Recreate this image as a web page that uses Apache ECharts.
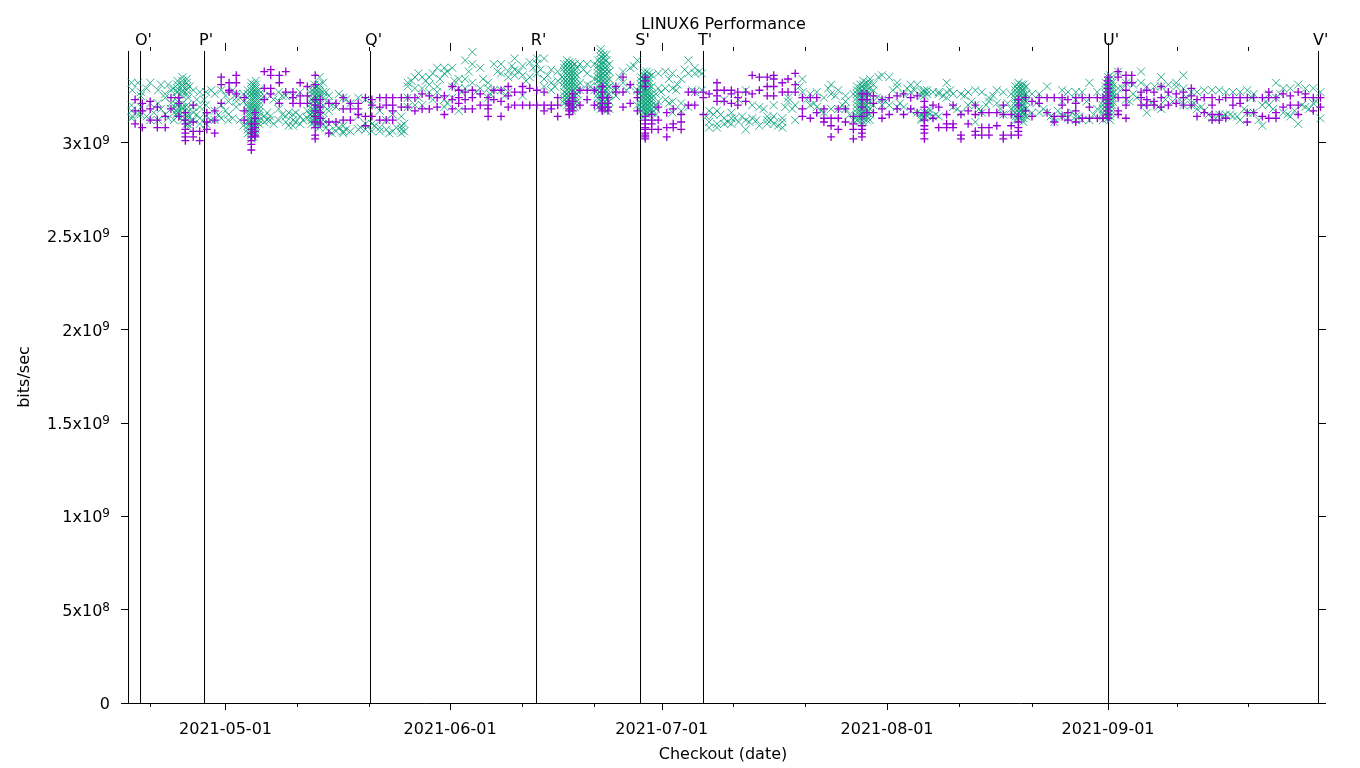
<!DOCTYPE html>
<html><head><meta charset="utf-8">
<style>html,body{margin:0;padding:0;background:#fff}#c{width:1360px;height:768px}</style>
<script src="https://cdn.jsdelivr.net/npm/echarts@6/dist/echarts.min.js"></script>
</head><body><div id="c"></div>
<script>
// x = days relative to the 2021-05-01 tick, y values in units of 1e9 bits/sec
const xMajorTicks = [0, 31.3, 60.8, 92.2, 123];
const xMajorLabels = ['2021-05-01', '2021-06-01', '2021-07-01', '2021-08-01', '2021-09-01'];
const xMinorTicks = [-10.5, 10, 20, 41.3, 51.4, 70.7, 80.8, 102.2, 112.4, 132.6, 142.6];
const yTicks = [0, 5e8, 1e9, 1.5e9, 2e9, 2.5e9, 3e9];
const yTickLabels = ['0', '{m|5x10}{s|8}', '{m|1x10}{s|9}', '{m|1.5x10}{s|9}', '{m|2x10}{s|9}', '{m|2.5x10}{s|9}', '{m|3x10}{s|9}'];
const eventDays = [-13.59, -11.92, -2.99, 20.15, 43.25, 57.8, 66.55, 123, 152.26];
const eventNames = ['', "O'", "P'", "Q'", "R'", "S'", "T'", "U'", "V'"];

const purple = [
[-12.6,[3.23,3.17,3.10]],[-11.6,[3.21,3.17,3.08]],[-10.5,[3.22,3.18,3.12]],[-9.5,[3.19,3.12,3.08]],[-8.4,[3.14,3.08]],[-7.6,[3.24,3.18]],[-6.5,[3.24,3.21,3.14]],
[-5.6,[3.16,3.12,3.10,3.07,3.05,3.03,3.01]],[-4.5,[3.20,3.11,3.06,3.03]],[-3.6,[3.06,3.01]],[-2.6,[3.16,3.11,3.07]],[-1.5,[3.17,3.12,3.05]],[-0.6,[3.35,3.31,3.21]],
[0.5,[3.32,3.28,3.27]],[1.5,[3.36,3.32,3.26]],[2.6,[3.24,3.17,3.12]],[3.6,[3.10,3.07,3.05,3.03,3.01,2.99,2.96]],[4.1,[3.16,3.13,3.10,3.08,3.06,3.04,3.03]],
[5.4,[3.38,3.29,3.23]],[6.3,[3.39,3.36,3.29,3.26]],[7.5,[3.36,3.32,3.21]],[8.4,[3.38,3.27]],[9.4,[3.27,3.24,3.21]],[10.4,[3.32,3.25,3.21]],[11.4,[3.30,3.25,3.21]],
[12.5,[3.36,3.31,3.23,3.20,3.17,3.14,3.11,3.08,3.04,3.02]],[13.2,[3.23,3.19,3.16,3.13,3.10]],[14.4,[3.21,3.11,3.05]],[15.4,[3.21,3.11]],[16.4,[3.24,3.18,3.12]],
[17.4,[3.21,3.18,3.12]],[18.5,[3.21,3.18,3.15]],[19.5,[3.24,3.14,3.09]],[20.4,[3.23,3.20,3.14]],[21.5,[3.24,3.19,3.12]],[22.4,[3.24,3.20,3.12]],[23.3,[3.24,3.20,3.17,3.12]],
[24.5,[3.24,3.19]],[25.4,[3.24,3.19]],[26.4,[3.24,3.17]],[27.4,[3.26,3.18]],[28.4,[3.25,3.18]],[29.5,[3.24,3.19]],[30.5,[3.25,3.15]],[31.6,[3.30,3.23,3.18]],[32.5,[3.28,3.24,3.21]],
[33.4,[3.27,3.23,3.18]],[34.4,[3.28,3.24,3.18]],[35.5,[3.26,3.20]],[36.6,[3.24,3.20,3.18,3.14]],[37.4,[3.28,3.23]],[38.4,[3.28,3.22,3.14]],[39.4,[3.30,3.25,3.19]],[40.3,[3.27,3.20]],
[41.4,[3.30,3.27,3.20]],[42.4,[3.29,3.20]],[43.4,[3.28,3.20]],[44.4,[3.27,3.20,3.17]],[45.4,[3.20,3.18]],[46.3,[3.24,3.20,3.14]],[47.9,[3.22,3.21,3.20,3.18,3.17,3.15]],
[48.4,[3.26,3.24,3.22,3.19,3.17]],[49.4,[3.28,3.20]],[50.4,[3.28,3.23]],[51.4,[3.28,3.20]],[52.5,[3.30,3.27,3.24,3.21,3.19,3.18,3.17]],[53.3,[3.24,3.21,3.19,3.17]],
[54.4,[3.30,3.27]],[55.4,[3.35,3.27,3.19]],[56.4,[3.31,3.21]],[57.4,[3.27,3.24,3.17]],[58.5,[3.35,3.33,3.30,3.14,3.12,3.10,3.08,3.07,3.05,3.04,3.03,3.02]],[59.4,[3.15,3.12,3.10,3.07]],
[60.3,[3.19,3.12,3.07]],[61.5,[3.16,3.08,3.03]],[62.4,[3.18,3.10,3.08]],[63.5,[3.15,3.11,3.07]],[64.5,[3.27,3.20]],[65.4,[3.27,3.20]],[66.6,[3.27,3.24,3.15]],[67.4,[3.26]],
[68.5,[3.32,3.28,3.25,3.22]],[69.5,[3.28,3.22]],[70.5,[3.28,3.26,3.21]],[71.4,[3.27,3.24,3.20]],[72.5,[3.27,3.22]],[73.4,[3.36,3.26]],[74.4,[3.35,3.28]],[75.5,[3.35,3.30,3.25]],
[76.4,[3.36,3.34,3.30,3.25]],[77.6,[3.32,3.27]],[78.4,[3.34,3.27]],[79.4,[3.37,3.31,3.27]],[80.4,[3.24,3.18,3.14]],[81.5,[3.24,3.13]],[82.4,[3.24,3.16]],[83.4,[3.18,3.13,3.11]],
[84.4,[3.13,3.09,3.03]],[85.4,[3.18,3.13,3.07]],[86.4,[3.18,3.11]],[87.5,[3.14,3.10,3.07,3.02]],[88.7,[3.26,3.23,3.19,3.14,3.09,3.07,3.05,3.03]],[89.4,[3.26,3.23,3.16]],
[90.3,[3.25,3.21,3.16]],[91.5,[3.23,3.18,3.13]],[92.5,[3.24,3.15]],[93.6,[3.25,3.18]],[94.5,[3.26,3.15]],[95.5,[3.24,3.18]],[96.4,[3.25,3.16]],[97.4,[3.22,3.19,3.16,3.12,3.09,3.07,3.05,3.02]],
[98.6,[3.20,3.13]],[99.4,[3.19,3.08]],[100.5,[3.15,3.10,3.08]],[101.4,[3.20,3.10,3.08]],[102.5,[3.15,3.04,3.02]],[103.5,[3.17,3.10]],[104.5,[3.20,3.15,3.06,3.04]],[105.4,[3.16,3.08,3.04]],
[106.4,[3.16,3.08,3.04]],[107.5,[3.16,3.09]],[108.4,[3.20,3.15,3.04,3.02]],[109.5,[3.15,3.09,3.04]],[110.5,[3.23,3.20,3.14,3.11,3.08,3.06,3.04]],[111.5,[3.24,3.17]],[112.4,[3.22,3.14]],
[113.4,[3.24,3.21]],[114.5,[3.24,3.16]],[115.5,[3.24,3.14,3.11]],[116.6,[3.24,3.20,3.14]],[117.4,[3.23,3.16,3.12]],[118.5,[3.24,3.21,3.17,3.11]],[119.4,[3.24,3.13]],[120.4,[3.24,3.19,3.13]],
[121.5,[3.24,3.13]],[122.3,[3.24,3.13]],[123,[3.35,3.33,3.31,3.29,3.27,3.25,3.23,3.21,3.19,3.17,3.15,3.13]],[124.4,[3.38,3.35,3.24,3.17,3.15]],[125.5,[3.36,3.32,3.28,3.24,3.20,3.13]],
[126.3,[3.36,3.32]],[127.6,[3.27,3.24,3.20]],[128.4,[3.28,3.23,3.20]],[129.4,[3.27,3.22,3.20]],[130.4,[3.30,3.24,3.19]],[131.4,[3.27,3.20]],[132.5,[3.26,3.21]],[133.5,[3.27,3.24,3.20]],
[134.6,[3.29,3.25,3.20]],[135.4,[3.23,3.14]],[136.4,[3.24,3.16]],[137.5,[3.24,3.20,3.15,3.12]],[138.5,[3.23,3.15,3.12]],[139.4,[3.24,3.13]],[140.4,[3.24,3.20]],[141.4,[3.24,3.21]],
[142.4,[3.24,3.16,3.11]],[143.3,[3.24,3.16]],[144.5,[3.24,3.14]],[145.4,[3.27,3.24,3.13]],[146.4,[3.24,3.16,3.13]],[147.4,[3.26,3.19]],[148.4,[3.25,3.20]],[149.5,[3.27,3.20,3.15]],
[150.5,[3.26,3.24]],[151.6,[3.24,3.17]],[152.6,[3.24,3.19]]
];

const green = [
[-13.1,[3.32,3.20,3.17,3.13]],[-12.2,[3.32,3.15]],[-11.8,[3.27,3.25,3.19,3.15]],[-10.5,[3.32,3.21,3.12]],[-9.4,[3.28,3.21,3.12]],[-8.4,[3.26,3.24,3.15]],[-7.6,[3.28,3.21,3.18]],
[-6.8,[3.27,3.24,3.20,3.17,3.15]],[-6,[3.35,3.33,3.31,3.30,3.28,3.27,3.25,3.21,3.19,3.18,3.16,3.14,3.12]],[-5.2,[3.24,3.14,3.10,3.08]],[-4.5,[3.28,3.19,3.16,3.12]],[-3.6,[3.27,3.19,3.13,3.10]],
[-2.7,[3.27,3.20,3.14,3.10]],[-1.5,[3.26,3.17,3.12]],[-0.6,[3.28,3.20,3.13]],[0.4,[3.22,3.15,3.12]],[1.5,[3.26,3.24,3.22,3.19]],[2.5,[3.26,3.22,3.09]],
[3.6,[3.32,3.30,3.28,3.26,3.24,3.22,3.20,3.18,3.16,3.14,3.12,3.10,3.08,3.06,3.04,3.02]],[4.2,[3.33,3.31,3.29,3.27,3.25,3.23,3.21,3.19,3.17,3.15,3.13,3.11,3.09,3.07,3.05]],
[5.4,[3.25,3.14,3.11]],[6.2,[3.25,3.14,3.12]],[7.4,[3.27,3.22,3.18,3.12]],[8.4,[3.25,3.14,3.11]],[9.4,[3.25,3.15,3.12,3.09]],[10.4,[3.27,3.14,3.10]],[11.4,[3.17,3.13]],
[12.4,[3.31,3.29,3.27,3.25,3.23,3.21,3.19,3.17,3.15,3.13,3.11,3.09]],[13.1,[3.35,3.31,3.28,3.26,3.24,3.22,3.20,3.18,3.16,3.14,3.12,3.10,3.08]],[14.4,[3.25,3.22,3.17,3.10,3.06]],
[15.4,[3.19,3.09,3.06]],[16.4,[3.24,3.09,3.06,3.05]],[17.4,[3.21,3.06]],[18.5,[3.24,3.14,3.07]],[19.5,[3.23,3.10,3.07]],[20.4,[3.20,3.10,3.06]],[21.5,[3.17,3.08,3.06]],[22.4,[3.12,3.07]],
[23.3,[3.15,3.06]],[24.5,[3.14,3.09,3.07,3.05]],[25.4,[3.32,3.30,3.24,3.19]],[26.4,[3.35,3.29,3.20]],[27.4,[3.35,3.29,3.20]],[28.4,[3.35,3.31,3.27]],[29.5,[3.40,3.30,3.27]],[30.5,[3.40,3.37,3.23,3.19]],
[31.6,[3.40,3.30,3.24]],[32.5,[3.34,3.29,3.17]],[33.4,[3.44,3.34,3.29]],[34.4,[3.485,3.42,3.32]],[35.5,[3.40,3.29]],[36.6,[3.32,3.29,3.24]],[37.4,[3.42,3.28]],[38.4,[3.42,3.37,3.28]],
[39.4,[3.38,3.35,3.27]],[40.3,[3.45,3.39,3.36]],[41.4,[3.41,3.36,3.25]],[42.4,[3.43,3.35]],[43.4,[3.45,3.42,3.37]],[44.4,[3.45,3.34,3.30]],[45.4,[3.39,3.32,3.28]],[46.3,[3.38,3.33]],
[47.6,[3.44,3.42,3.40,3.38,3.36,3.34,3.32,3.30,3.28,3.26,3.24,3.22,3.20]],[48.3,[3.43,3.41,3.39,3.37,3.35,3.33,3.31,3.29,3.27,3.25,3.23,3.21,3.19,3.17]],[49.4,[3.42,3.32,3.28]],[50.4,[3.42,3.37,3.31]],
[51.4,[3.42,3.34,3.28]],[52.3,[3.50,3.48,3.46,3.44,3.42,3.40,3.38,3.36,3.34,3.32,3.30,3.28,3.26,3.24,3.22,3.20,3.18]],[53.1,[3.47,3.44,3.41,3.39,3.37,3.35,3.33,3.31,3.29,3.27,3.25,3.23,3.21,3.19,3.17]],
[54.4,[3.30,3.28,3.25]],[55.4,[3.38,3.32]],[56.4,[3.40,3.30]],[57.4,[3.44,3.28,3.20]],[58.3,[3.38,3.36,3.34,3.32,3.30,3.28,3.26,3.24,3.22,3.20,3.18,3.16,3.14]],[59,[3.37,3.35,3.33,3.31,3.29,3.27,3.25,3.23,3.21,3.19,3.17,3.15]],
[60.3,[3.37,3.29,3.22]],[61.3,[3.38,3.29,3.23]],[62.3,[3.37,3.29,3.22,3.16]],[63.5,[3.34,3.21,3.17]],[64.5,[3.44,3.37,3.19]],[65.4,[3.40,3.37,3.27]],[66.4,[3.37,3.28]],[67.4,[3.17,3.11,3.08]],
[68.5,[3.17,3.10,3.08]],[69.5,[3.23,3.13,3.10]],[70.5,[3.16,3.13,3.10]],[71.5,[3.23,3.11]],[72.5,[3.28,3.12,3.07]],[73.4,[3.20,3.13]],[74.4,[3.19,3.09]],[75.5,[3.14,3.12,3.10]],[76.4,[3.20,3.14,3.10]],
[77.6,[3.13,3.11,3.08]],[78.4,[3.24,3.22]],[79.4,[3.20,3.12]],[80.4,[3.34,3.27]],[81.5,[3.26,3.20]],[82.4,[3.27,3.19]],[83.4,[3.24,3.16]],[84.4,[3.31,3.26,3.18]],[85.4,[3.28,3.18]],[86.4,[3.25,3.22,3.18]],
[87.5,[3.26,3.12]],[88.5,[3.31,3.29,3.27,3.25,3.23,3.21,3.19,3.17,3.15,3.13,3.11]],[89.4,[3.32,3.30,3.28,3.26,3.24,3.22,3.20,3.18,3.16,3.14,3.12]],[90.3,[3.31,3.28,3.20]],[91.5,[3.36,3.23,3.20]],[92.5,[3.35,3.20]],
[93.6,[3.32,3.30,3.19]],[94.5,[3.26,3.19]],[95.5,[3.31,3.27,3.17]],[96.4,[3.31,3.16]],[97.4,[3.28,3.27,3.25,3.16,3.14,3.13]],[98.6,[3.27,3.14]],[99.4,[3.27,3.26,3.14]],[100.5,[3.32,3.27,3.24]],[101.4,[3.26,3.19]],
[102.5,[3.26,3.16]],[103.5,[3.27,3.20]],[104.5,[3.28,3.20,3.11]],[105.4,[3.27,3.16]],[106.4,[3.24,3.22]],[107.5,[3.28,3.21]],[108.4,[3.27,3.15]],[109.5,[3.26,3.18]],
[110.5,[3.32,3.30,3.28,3.26,3.24,3.22,3.20,3.18,3.16,3.14,3.12]],[111.2,[3.31,3.29,3.27,3.25,3.23,3.21,3.19,3.17,3.15,3.13,3.11]],[112.4,[3.26,3.16]],[113.4,[3.26,3.16]],[114.5,[3.30,3.16]],[115.5,[3.13,3.11]],
[116.6,[3.28,3.22,3.14]],[117.4,[3.27,3.13]],[118.5,[3.27,3.23,3.14,3.12]],[119.4,[3.27,3.12]],[120.4,[3.32,3.12]],[121.5,[3.27,3.18]],[122.3,[3.22,3.20,3.18,3.16,3.14,3.12]],
[123,[3.35,3.33,3.31,3.29,3.27,3.25,3.23,3.21,3.19,3.17,3.15,3.13]],[123.6,[3.32,3.30,3.28,3.26,3.24,3.22,3.20]],[124.4,[3.38,3.29]],[125.5,[3.32,3.23]],[126.5,[3.31,3.26]],[127.6,[3.38,3.32]],[128.4,[3.30,3.16]],[129.5,[3.30]],
[130.4,[3.35,3.30,3.18]],[131.4,[3.31,3.26]],[132.5,[3.32,3.30]],[133.5,[3.36,3.29,3.20]],[134.6,[3.27,3.20]],[135.4,[3.27,3.18]],[136.4,[3.28,3.17]],[137.5,[3.28,3.13]],[138.5,[3.28,3.15]],[139.4,[3.27,3.15]],
[140.4,[3.27,3.14]],[141.4,[3.27,3.12]],[142.4,[3.28,3.16]],[143.3,[3.26,3.16]],[144.5,[3.20,3.09]],[145.4,[3.26,3.20]],[146.4,[3.32,3.24]],[147.4,[3.29,3.16]],[148.4,[3.29,3.14]],[149.5,[3.31,3.10]],
[150.5,[3.29,3.19]],[151.6,[3.29,3.21]],[152.6,[3.27,3.13]]
];

// second reading of the green marks: the dense blobs and the crowded bands
const greenDense = [
[-6.7,[3.33,3.31,3.29,3.27,3.22,3.20,3.18,3.16,3.14]],[-5.4,[3.34,3.32,3.30,3.28,3.26,3.20,3.18,3.16,3.14,3.12,3.10]],
[3.1,[3.28,3.26,3.24,3.21,3.19,3.17,3.15,3.13,3.11,3.09,3.07,3.05]],[3.9,[3.31,3.29,3.27,3.25,3.23,3.21,3.19,3.17,3.15,3.13,3.11,3.09,3.07,3.05,3.03]],[4.7,[3.28,3.26,3.24,3.22,3.20,3.18,3.16,3.14,3.12,3.10]],
[12,[3.28,3.26,3.23,3.21,3.18,3.16,3.14,3.12,3.10]],[12.8,[3.30,3.28,3.26,3.24,3.22,3.20,3.18,3.16,3.14,3.12,3.10]],[13.6,[3.32,3.27,3.24,3.20,3.16,3.12,3.10]],
[47.2,[3.42,3.40,3.38,3.34,3.32,3.30,3.27,3.25,3.23,3.21]],[47.9,[3.43,3.41,3.39,3.37,3.35,3.33,3.31,3.29,3.27,3.25,3.23,3.21,3.19]],[48.7,[3.42,3.39,3.37,3.35,3.33,3.31,3.29,3.27,3.25,3.23,3.21,3.19]],[49,[3.40,3.36,3.30,3.26,3.22]],
[51.9,[3.44,3.41,3.39,3.37,3.35,3.33,3.30,3.28,3.26,3.24,3.21,3.19]],[52.7,[3.47,3.45,3.43,3.41,3.39,3.37,3.35,3.33,3.31,3.29,3.27,3.25,3.23,3.21,3.19]],[53.5,[3.42,3.38,3.34,3.30,3.26,3.22,3.18]],
[57.9,[3.35,3.33,3.31,3.29,3.27,3.25,3.23,3.21,3.19,3.17]],[58.7,[3.38,3.35,3.33,3.31,3.29,3.27,3.25,3.23,3.21,3.19,3.17,3.15]],[59.4,[3.36,3.30,3.26,3.24,3.22,3.20,3.18,3.16]],[60,[3.26,3.20,3.18,3.15]],
[88,[3.30,3.28,3.26,3.24,3.22,3.20,3.18,3.16,3.14,3.12]],[88.9,[3.33,3.31,3.29,3.27,3.25,3.23,3.21,3.19,3.17,3.15,3.13,3.11]],[89.8,[3.34,3.32,3.29,3.26,3.22,3.18,3.15,3.12]],
[97,[3.27,3.25,3.15,3.13,3.12]],[97.8,[3.28,3.26,3.16,3.14]],[98,[3.18,3.16]],
[110.1,[3.30,3.28,3.26,3.24,3.22,3.20,3.18,3.16,3.14,3.12]],[110.9,[3.31,3.29,3.27,3.25,3.23,3.21,3.19,3.17,3.15,3.13]],[111.6,[3.30,3.26,3.22,3.18,3.14]],
[122.7,[3.32,3.30,3.28,3.26,3.24,3.22,3.20,3.18,3.16,3.14]],[123.3,[3.36,3.34,3.32,3.30,3.28,3.26,3.24,3.22,3.20,3.18,3.16,3.14,3.12]],
[-13,[3.28,3.14]],[-11,[3.29,3.14]],[-10,[3.16]],[-9,[3.31,3.18]],[-8,[3.31,3.13]],[-7.2,[3.29,3.12]],[-5,[3.30]],[-4,[3.23,3.15]],[-3,[3.23]],[-2,[3.28,3.12]],[-1,[3.15]],[0,[3.25,3.17]],[1,[3.28,3.13]],[2,[3.12]],
[5.8,[3.16,3.12]],[6.7,[3.23,3.10]],[7.9,[3.25,3.15]],[8.8,[3.16,3.09]],[9.8,[3.16,3.11]],[10.8,[3.12]],[11.8,[3.15]],[14,[3.27,3.08]],[14.8,[3.20,3.05]],[15.8,[3.26,3.08]],[16.8,[3.23,3.07]],[18.8,[3.08]],[20.8,[3.09]],[22.8,[3.05]],[23.8,[3.08]],[24.9,[3.10,3.06]],
[25.9,[3.33]],[26.9,[3.37,3.24]],[27.9,[3.33]],[28.9,[3.37,3.23]],[29.9,[3.34]],[30.9,[3.38,3.21]],[31.9,[3.33]],[32.9,[3.27]],[33.9,[3.38]],[34.9,[3.27]],[35.9,[3.34]],[36.9,[3.26]],[37.9,[3.38]],[38.9,[3.25]],[39.9,[3.41]],[40.9,[3.38]],[41.9,[3.33]],[42.9,[3.40]],[43.9,[3.39]],[44.9,[3.36]],[45.9,[3.30]],[46.9,[3.35]],
[49.9,[3.39]],[50.9,[3.30]],[54.9,[3.35]],[55.9,[3.28]],[56.9,[3.41]],
[60.7,[3.27]],[61.8,[3.34,3.21]],[62.8,[3.28]],[63,[3.31]],[64,[3.39]],[65,[3.28]],[66,[3.38]],[67,[3.14]],[68,[3.15]],[69,[3.15]],[70,[3.11]],[71,[3.13]],[72,[3.14]],[73,[3.11]],[74,[3.12]],[75,[3.18]],[76,[3.12]],[77,[3.09]],[78,[3.19]],[79,[3.18]],[80,[3.30]],[81,[3.23]],[82,[3.21]],[83,[3.17]],[84,[3.29]],[85,[3.25]],[86,[3.20]],[87,[3.15]],
[90.8,[3.24]],[91,[3.35]],[92,[3.22]],[93,[3.28]],[94,[3.21]],[95,[3.29]],[96,[3.28]],[99,[3.15]],[100,[3.25]],[101,[3.28]],[102,[3.18]],[103,[3.25]],[104,[3.22]],[105,[3.18]],[106,[3.20]],[107,[3.25]],[108,[3.18]],[109,[3.21]],
[113,[3.21]],[114,[3.18]],[115,[3.14]],[116,[3.17]],[117,[3.15]],[118,[3.16]],[119,[3.14]],[120,[3.22]],[121,[3.15]],[124,[3.25]],[125,[3.29]],[126,[3.22]],[127,[3.24]],[128,[3.20]],[129,[3.21]],[130,[3.19]],[131,[3.23]],[132,[3.22]],[133,[3.23]],[134,[3.24]],[135,[3.21]],[136,[3.19]],[137,[3.15]],[138,[3.13]],[139,[3.14]],[140,[3.15]],[141,[3.14]],[142,[3.18]],[143,[3.24]],[144,[3.12]],[145,[3.22]],[146,[3.18]],[147,[3.26]],[148,[3.15]],[149,[3.17]],[150,[3.20]],[151,[3.18]],[152,[3.22]]
];

const toPoints = groups => groups.flatMap(([d, vals]) => vals.map(v => [d, v * 1e9]));
const PLUS = 'path://M-4 0L4 0M0 -4L0 4';
const CROSS = 'path://M-4 -4L4 4M-4 4L4 -4';
const font = { fontFamily: 'DejaVu Sans', fontSize: 16, color: '#000' };
const xRange = { type: 'value', min: -13.59, max: 152.26, splitLine: { show: false } };
const xAxisFor = (pos, values, len, labels) => Object.assign({}, xRange, {
  position: pos,
  axisLine: { show: false, onZero: false },
  axisTick: { show: true, inside: false, length: len, customValues: values, lineStyle: { color: '#000', width: 1 } },
  axisLabel: labels
    ? Object.assign({}, font, { show: true, margin: 19, customValues: xMajorTicks, hideOverlap: false,
        formatter: v => xMajorLabels[xMajorTicks.indexOf(v)] || '' })
    : { show: false }
});
const yBase = { type: 'value', min: 0, max: 3.49e9, splitLine: { show: false } };
const scatter = (name, symbol, size, color, width, z, data) => ({
  name, type: 'scatter', symbol, symbolSize: size, z, clip: false, silent: true, animation: false, large: false,
  itemStyle: { color: 'transparent', borderColor: color, borderWidth: width, opacity: 1 }, emphasis: { disabled: true }, data
});

const chart = echarts.init(document.getElementById('c'), null, { renderer: 'canvas' });
chart.setOption({
  animation: false,
  backgroundColor: '#fff',
  title: { text: 'LINUX6 Performance', left: 636, top: 12,
    textStyle: Object.assign({}, font, { fontWeight: 'normal' }) },
  grid: { left: 128, right: 42, top: 51, bottom: 62 },
  xAxis: [
    Object.assign(xAxisFor('bottom', xMajorTicks, 7, true), {
      axisLine: { show: true, onZero: false, lineStyle: { color: '#000', width: 1 } },
      name: 'Checkout (date)', nameLocation: 'middle', nameGap: 44, nameTextStyle: font }),
    xAxisFor('bottom', xMinorTicks, 4, false),
    xAxisFor('top', xMajorTicks, 8, false),
    xAxisFor('top', xMinorTicks, 4, false)
  ],
  yAxis: [
    Object.assign({}, yBase, { position: 'left',
      axisLine: { show: false, onZero: false },
      axisTick: { show: true, length: 7, customValues: yTicks, lineStyle: { color: '#000', width: 1 } },
      axisLabel: Object.assign({}, font, { margin: 18, customValues: yTicks, padding: [4, 0, 0, 0],
        formatter: v => yTickLabels[yTicks.indexOf(v)],
        rich: { m: { fontFamily: 'DejaVu Sans', fontSize: 16, color: '#000' },
                s: { fontFamily: 'DejaVu Sans', fontSize: 12, color: '#000', verticalAlign: 'top', padding: [0, 0, 8, 0] } } }),
      name: 'bits/sec', nameLocation: 'middle', nameGap: 95, nameRotate: 90, nameTextStyle: font }),
    Object.assign({}, yBase, { position: 'right',
      axisLine: { show: false, onZero: false },
      axisTick: { show: true, length: 8, customValues: yTicks, lineStyle: { color: '#000', width: 1 } },
      axisLabel: { show: false } })
  ],
  series: [
    { name: 'events', type: 'scatter', data: [], z: 1, silent: true,
      markLine: { silent: true, symbol: 'none', z: 1, animation: false,
        lineStyle: { color: '#000', width: 1, type: 'solid' },
        label: Object.assign({}, font, { position: 'end', formatter: '{b}', align: 'left', verticalAlign: 'middle', offset: [-5, -5], distance: 5 }),
        emphasis: { disabled: true },
        data: eventDays.map((d, i) => ({ name: eventNames[i], xAxis: d })) } },
    scatter('x', CROSS, 8, '#009e73', 0.8, 2, toPoints(green).concat(toPoints(greenDense))),
    scatter('+', PLUS, 8, '#9400d3', 1.3, 3, toPoints(purple))
  ]
});
</script></body></html>
